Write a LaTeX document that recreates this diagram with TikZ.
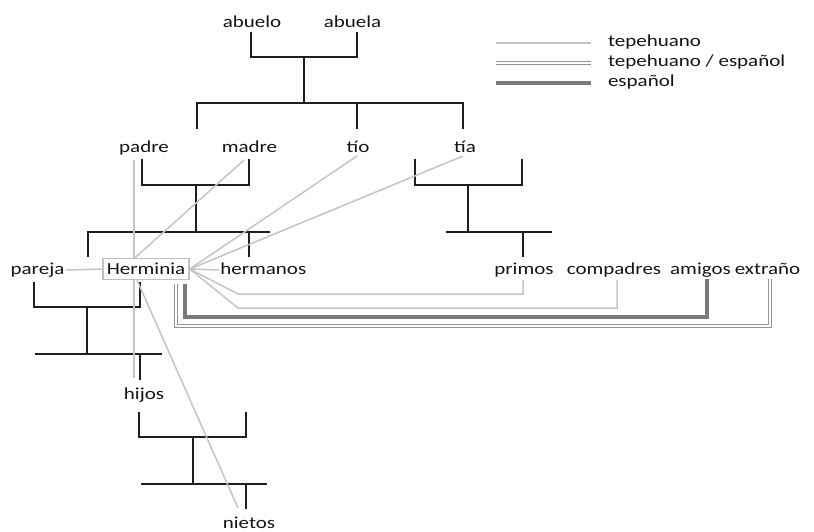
\documentclass[tikz,border=0pt]{standalone}
\usepackage{fontspec}
\setmainfont[FakeStretch=1.25]{Carlito}
\definecolor{txt}{HTML}{141414}
\definecolor{kinc}{HTML}{1E1E1E}
\definecolor{tepc}{HTML}{C4C4C4}
\definecolor{espc}{HTML}{7A7A7A}
\definecolor{bilc}{HTML}{959595}
\definecolor{boxc}{HTML}{C0C0C0}
\begin{document}
\begin{tikzpicture}[x=1pt,y=-1pt,
  word/.style={inner sep=0pt,outer sep=0pt,text height=12pt,text depth=4pt,
    font=\fontsize{16.8}{20}\selectfont,text=txt,anchor=base},
  kin/.style={draw=kinc,line width=1.9pt},
  tep/.style={draw=tepc,line width=1.5pt},
  esp/.style={draw=espc,line width=3.3pt},
  bil/.style={draw=bilc,line width=1.1pt,double=white,double distance=1.9pt},
  ego/.style={draw=boxc,line width=1.4pt,fill=white,minimum width=86pt,
    minimum height=21pt,inner sep=0pt,text height=11pt,text depth=0pt,
    font=\fontsize{16.8}{20}\selectfont,text=txt}]
\useasboundingbox (0,0) rectangle (814,531);

% words
\node[word] (abuelo) at (252,27.7) {abuelo};
\node[word] (abuela) at (352.5,27.7) {abuela};
\node[word] (padre) at (144,152) {padre};
\node[word] (madre) at (249.5,152) {madre};
\node[word] (tio) at (358,152) {tío};
\node[word] (tia) at (465,152) {tía};
\node[word] (pareja) at (37.5,274) {pareja};
\node[ego] (ego) at (146,269) {Herminia};
\node[word] (hermanos) at (263.3,274) {hermanos};
\node[word] (primos) at (524,274) {primos};
\node[word] (compadres) at (614,274) {compadres};
\node[word] (amigos) at (700.5,274) {amigos};
\node[word] (extrano) at (767.5,274) {extraño};
\node[word] (hijos) at (144,399) {hijos};
\node[word] (nietos) at (249,528) {nietos};

% legend
\node[word,anchor=base west] (leg1) at (608,46.7) {tepehuano};
\node[word,anchor=base west] (leg2) at (608,66.7) {tepehuano / español};
\node[word,anchor=base west] (leg3) at (608,86.7) {español};
\coordinate (l1a) at (496,43);  \coordinate (l1b) at (591,43);
\coordinate (l2a) at (496,63);  \coordinate (l2b) at (591,63);
\coordinate (l3a) at (496,83);  \coordinate (l3b) at (591,83);
\draw[tep] (l1a) -- (l1b);
\draw[bil] (l2a) -- (l2b);
\draw[esp] (l3a) -- (l3b);

% kinship tree
\coordinate (gp) at (304,57);
\coordinate (gpl) at (304,103);
\draw[kin] ([xshift=-1pt]abuelo.south) |- (gp) -| ([xshift=4.5pt]abuela.south);
\draw[kin] (gp) -- (gpl);
\coordinate (g1) at (197,129);
\coordinate (g2) at (357,129);
\coordinate (g3) at (463,129);
\draw[kin] (g1) |- (gpl) -| (g3);
\draw[kin] (gpl -| g2) -- (g2);

\coordinate (pp) at (196,185);
\coordinate (ppl) at (196,232);
\draw[kin] ([xshift=-2pt,yshift=-3pt]padre.south) |- (pp) -| ([xshift=-0.5pt,yshift=-3pt]madre.south);
\draw[kin] (pp) -- (ppl);
\coordinate (s1) at (88,257);
\coordinate (s2) at (270,232);
\coordinate (s3) at (249,257);
\draw[kin] (s1) |- (s2);
\draw[kin] (s3 |- s2) -- (s3);

\coordinate (t1) at (415,159);
\coordinate (tt) at (468,185);
\coordinate (t2) at (522,159);
\draw[kin] (t1) |- (tt) -| (t2);
\draw[kin] (tt) -- (468,232);
\coordinate (tl) at (446,232);
\coordinate (tr) at (552,232);
\draw[kin] (tl) -- (tr);
\draw[kin] (523,232) -- ([xshift=-1pt,yshift=5pt]primos.north);

\coordinate (pc) at (87,307);
\draw[kin] ([xshift=-3.5pt,yshift=-4pt]pareja.south) |- (pc) -| ([xshift=-6pt,yshift=-1.5pt]ego.south);
\draw[kin] (pc) -- (87,354);
\coordinate (hl) at (35,354);
\coordinate (hr) at (162,354);
\draw[kin] (hl) -- (hr);
\draw[kin] (140,354) -- ([xshift=-4pt,yshift=7pt]hijos.north);

\coordinate (hc) at (193,437);
\draw[kin] ([xshift=-5pt,yshift=-9pt]hijos.south) |- (hc) -| (246,412);
\draw[kin] (hc) -- (193,484);
\coordinate (nl) at (141,484);
\coordinate (nr) at (267,484);
\draw[kin] (nl) -- (nr);
\draw[kin] (246,484) -- ([xshift=-3pt,yshift=7pt]nietos.north);

% language links
\draw[tep] ([xshift=-10pt,yshift=-4pt]padre.south) -- ([xshift=-12pt]ego.north);
\draw[tep] ([xshift=-5.5pt,yshift=-4pt]madre.south) -- ([xshift=-11pt]ego.north);
\draw[tep] ([xshift=-1pt]tio.south) -- (ego.east);
\draw[tep] ([xshift=-2pt]tia.south) -- (ego.east);
\draw[tep] (ego.east) -- ([xshift=-1pt]hermanos.west);
\draw[tep] ([xshift=2pt]pareja.east) -- (ego.west);
\coordinate (pr) at (238,294);
\coordinate (co) at (238,308);
\draw[tep] (ego.east) -- (pr) -| ([xshift=-1pt,yshift=-2pt]primos.south);
\draw[tep] (ego.east) -- (co) -| ([xshift=3pt,yshift=-2pt]compadres.south);
\draw[tep] ([xshift=-12pt]ego.south) -- ([xshift=-10pt,yshift=9pt]hijos.north);
\draw[tep] ([xshift=-9pt]ego.south) -- ([xshift=-11pt,yshift=8pt]nietos.north);
\coordinate (am) at (450,317);
\coordinate (ex) at (450,326);
\draw[esp] ([xshift=39pt,yshift=-4pt]ego.south) |- (am) -| ([xshift=6.5pt,yshift=-1pt]amigos.south);
\draw[bil] ([xshift=30pt,yshift=-4pt]ego.south) |- (ex) -| ([xshift=2.5pt,yshift=-1pt]extrano.south);
\end{tikzpicture}
\end{document}
